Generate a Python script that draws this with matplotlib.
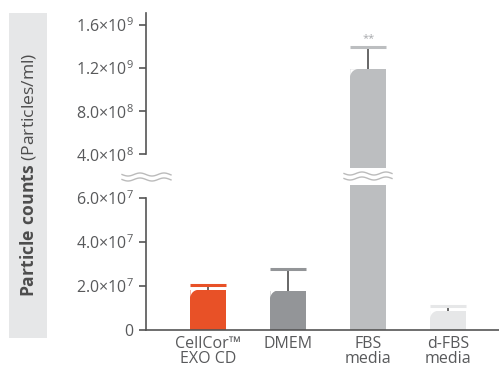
import numpy as np
import matplotlib

matplotlib.use("Agg")
import matplotlib.pyplot as plt
from matplotlib.patches import Rectangle, Polygon
from matplotlib.transforms import Affine2D, ScaledTranslation

plt.rcParams["font.family"] = ["Open Sans", "DejaVu Sans"]
plt.rcParams["mathtext.fontset"] = "custom"
plt.rcParams["mathtext.rm"] = "Open Sans"
plt.rcParams["mathtext.bf"] = "Open Sans:bold"

# data
categories = ["CellCor™\nEXO CD", "DMEM", "FBS\nmedia", "d-FBS\nmedia"]
means = [1.81e7, 1.78e7, 1.19e9, 8.5e6]
errors = [0.2e7, 0.98e7, 2.1e8, 2.3e6]
sig_labels = ["", "", "**", ""]
colors = ["#E85127", "#939598", "#BCBEC0", "#E6E7E8"]

low_ticks = [0, 2e7, 4e7, 6e7]
low_labels = ["0", r"2.0$\times$10$^{7}$", r"4.0$\times$10$^{7}$", r"6.0$\times$10$^{7}$"]
high_ticks = [4e8, 8e8, 1.2e9, 1.6e9]
high_labels = [r"4.0$\times$10$^{8}$", r"8.0$\times$10$^{8}$",
               r"1.2$\times$10$^{9}$", r"1.6$\times$10$^{9}$"]

W, H = 499, 369
fig = plt.figure(figsize=(W / 100, H / 100), dpi=100)


def fx(px):
    return px / W


def fy(py):
    return 1 - py / H


ax_lo = fig.add_axes([fx(146), fy(329.5), fx(499 - 146), (329.5 - 185) / H])
ax_hi = fig.add_axes([fx(146), fy(168), fx(499 - 146), (168 - 13) / H])

text_col = "#58595B"
axis_col = "#555555"
x = np.arange(len(categories))
bw = 0.45
fs = 11.5

# white notch that rounds the top-left corner of a bar (pixel units)
r = 8
th = np.linspace(np.pi / 2, np.pi, 20)
notch = np.vstack([[0, 0], np.column_stack([r + r * np.cos(th), -r + r * np.sin(th)])])

for ax in (ax_lo, ax_hi):
    ax.set_xlim(-0.781, 3.637)
    if ax is ax_lo:
        ax.set_ylim(0, 6.6e7)
    else:
        ax.set_ylim(2.73e8, 1.711e9)
    ax.bar(x, means, width=bw, color=colors, zorder=2)
    tops = np.array(means) + np.array(errors)
    ax.vlines(x, means, tops, color="#4D4D4D", lw=1.2, zorder=1)
    for xi, m, t, c in zip(x, means, tops, colors):
        ax.hlines(t, xi - bw / 2, xi + bw / 2, color=c, lw=2.2, zorder=4)
        tr = Affine2D().scale(fig.dpi / 100) + ScaledTranslation(xi - bw / 2, m, ax.transData)
        p = Polygon(notch, closed=True, facecolor="white", edgecolor="none",
                    transform=tr, zorder=3)
        p.set_clip_box(ax.bbox)
        ax.add_artist(p)
    for s in ("top", "right"):
        ax.spines[s].set_visible(False)
    ax.spines["left"].set_color(axis_col)
    ax.spines["left"].set_linewidth(1.2)
    ax.tick_params(axis="y", colors=axis_col, labelcolor=text_col,
                   labelsize=fs, length=5, width=1.2, pad=4)

ax_lo.spines["left"].set_bounds(0, 6e7)
ax_lo.spines["bottom"].set_color(axis_col)
ax_lo.spines["bottom"].set_linewidth(1.2)
ax_lo.set_yticks(low_ticks)
ax_lo.set_yticklabels(low_labels)
ax_lo.set_xticks(x)
ax_lo.set_xticklabels(categories, color=text_col, fontsize=fs, linespacing=0.85)
ax_lo.tick_params(axis="x", length=0, pad=5)

ax_hi.spines["left"].set_bounds(4e8, 1.711e9)
ax_hi.spines["bottom"].set_visible(False)
ax_hi.set_yticks(high_ticks)
ax_hi.set_yticklabels(high_labels)
ax_hi.set_xticks([])

for xi, m, e, s in zip(x, means, errors, sig_labels):
    if s:
        ax_hi.text(xi, m + e + 0.25e8, s, ha="center", va="bottom",
                   color="#A7A9AC", fontsize=8)


# wavy break marks
def wave(x0, x1, yc):
    xs = np.linspace(x0, x1, 80)
    for dy in (-2.5, 2.5):
        ys = yc + dy + 1.5 * np.sin(2 * np.pi * (xs - x0) / 24)
        fig.add_artist(plt.Line2D(fx(xs), fy(ys), color="#BBBBBB", lw=1.0))


wave(122, 171, 177)
wave(344, 392, 176)

# y label box
fig.add_artist(Rectangle((fx(9), fy(338)), fx(38), (338 - 13) / H,
                         color="#E6E7E8", lw=0, zorder=0))
fig.text(fx(28), fy(175), r"$\bf{Particle\ counts}$ (Particles/ml)",
         rotation=90, ha="center", va="center", color="#4D4D4D", fontsize=12.6)

fig.savefig("out.png", dpi=100)
